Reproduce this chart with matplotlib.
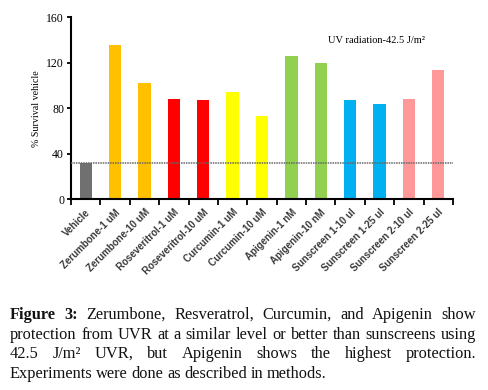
import matplotlib
matplotlib.use("Agg")
import matplotlib.pyplot as plt
import numpy as np

categories = ["Vehicle", "Zerumbone-1 uM", "Zerumbone-10 uM", "Roseveritrol-1 uM",
              "Roseveritrol-10 uM", "Curcumin-1 uM", "Curcumin-10 uM", "Apigenin-1 nM",
              "Apigenin-10 nM", "Sunscreen 1-10 ul", "Sunscreen 1-25 ul",
              "Sunscreen 2-10 ul", "Sunscreen 2-25 ul"]
values = [32, 136, 102, 88, 87.5, 94, 73.5, 126, 120, 87, 83.5, 88, 113.5]
colors = ["#707070", "#FFC000", "#FFC000", "#FF0000", "#FF0000", "#FFFF00", "#FFFF00",
          "#92D050", "#92D050", "#00B0F0", "#00B0F0", "#FF9999", "#FF9999"]
baseline = 32
yticks = [0, 40, 80, 120, 160]

W, H = 489, 390
fig = plt.figure(figsize=(W / 100, H / 100), dpi=100)
ax = fig.add_axes([71 / W, 1 - 199 / H, (453 - 71) / W, (199 - 17.3) / H])

x = np.arange(len(categories))
ax.bar(x, values, width=0.42, color=colors, edgecolor="none", zorder=2)
ax.axhline(baseline, color="#666666", linestyle=(0, (1, 0.6)), linewidth=1.1, zorder=3)

ax.set_xlim(-0.5, len(categories) - 0.5)
ax.set_ylim(0, 160)
ax.set_yticks(yticks)
ax.set_yticklabels([str(v) for v in yticks], fontfamily="Liberation Serif", fontsize=8.5)
ax.set_xticks(np.arange(len(categories) + 1) - 0.5)
ax.set_xticklabels([])
ax.set_xticks(x, minor=True)
ax.set_xticklabels(categories, minor=True, rotation=45, ha="right", rotation_mode="anchor",
                   fontfamily="Liberation Sans", fontweight="bold", fontsize=7, color="#3a3a3a")
ax.tick_params(axis="x", which="minor", length=0, pad=6)
ax.tick_params(axis="x", which="major", length=4, width=1.3, direction="out")
ax.tick_params(axis="y", length=3, width=1.3, pad=2)
for s in ["top", "right"]:
    ax.spines[s].set_visible(False)
for s in ["left", "bottom"]:
    ax.spines[s].set_linewidth(1.5)
ax.set_ylabel("% Survival vehicle", fontfamily="Liberation Serif", fontsize=7.2, labelpad=4)
ax.text(0.8, 0.875, "UV radiation-42.5 J/m²", transform=ax.transAxes, ha="center", va="center",
        fontfamily="Liberation Serif", fontsize=7.5)

# caption with justified lines
fig.canvas.draw()
renderer = fig.canvas.get_renderer()
left_px, right_px = 10, 476
cap_fs = 11.8

def place_line(words, y_px, justify=True):
    texts = []
    widths = []
    for w, wt in words:
        t = fig.text(0, 1 - y_px / H, w, fontfamily="Liberation Serif", fontweight=wt,
                     fontsize=cap_fs, va="baseline", ha="left", color="#111111")
        bb = t.get_window_extent(renderer)
        texts.append(t)
        widths.append(bb.width)
    total = sum(widths)
    if justify and len(words) > 1:
        gap = max((right_px - left_px - total) / (len(words) - 1), 2.0)
    else:
        gap = cap_fs * 0.3
    xp = left_px
    for t, wd in zip(texts, widths):
        t.set_x(xp / W)
        xp += wd + gap

line1 = [("Figure", "bold"), ("3:", "bold")] + [(w, "normal") for w in
         "Zerumbone, Resveratrol, Curcumin, and Apigenin show".split()]
line2 = [(w, "normal") for w in
         "protection from UVR at a similar level or better than sunscreens using".split()]
line3 = [(w, "normal") for w in "42.5 J/m² UVR, but Apigenin shows the highest protection.".split()]
line4 = [(w, "normal") for w in "Experiments were done as described in methods.".split()]
place_line(line1, 319)
place_line(line2, 339)
place_line(line3, 358)
place_line(line4, 378, justify=False)

fig.savefig("out.png", dpi=100)
